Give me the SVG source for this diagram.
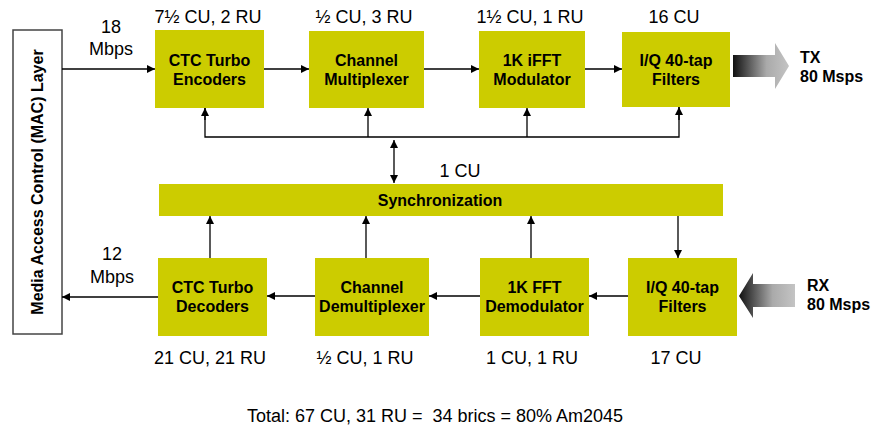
<svg xmlns="http://www.w3.org/2000/svg" width="872" height="431" viewBox="0 0 872 431">
<defs>
<style>
.box{fill:#cccc00}
.bt{font-family:"Liberation Sans",Arial,sans-serif;font-size:16px;font-weight:bold;fill:#000;text-anchor:middle}
.lt{font-family:"Liberation Sans",Arial,sans-serif;font-size:18px;fill:#000;text-anchor:middle}
.ln{stroke:#000;stroke-width:1.3;fill:none}
.wl{font-family:"Liberation Sans",Arial,sans-serif;font-size:16px;font-weight:bold;fill:#000}
</style>
<marker id="ah" markerUnits="userSpaceOnUse" markerWidth="9" markerHeight="9" refX="8" refY="4" orient="auto-start-reverse">
<path d="M0,0 L8,4 L0,8 z" fill="#000"/>
</marker>
<linearGradient id="gtx" x1="0" y1="0" x2="1" y2="0">
<stop offset="0" stop-color="#111"/>
<stop offset="0.6" stop-color="#aaa"/>
<stop offset="1" stop-color="#c4c4c4"/>
</linearGradient>
<linearGradient id="grx" x1="1" y1="0" x2="0" y2="0">
<stop offset="0" stop-color="#c4c4c4"/>
<stop offset="0.4" stop-color="#aaa"/>
<stop offset="1" stop-color="#111"/>
</linearGradient>
</defs>
<rect width="872" height="431" fill="#fff"/>

<g id="mac">
<rect x="13" y="30" width="49" height="304" fill="#fff" stroke="#444" stroke-width="1.5"/>
<text class="bt" transform="translate(43,182) rotate(-90)">Media Access Control (MAC) Layer</text>
</g>

<g id="enc">
<rect class="box" x="155" y="30" width="109" height="78"/>
<text class="bt" x="209.5" y="66">CTC Turbo</text>
<text class="bt" x="209.5" y="85">Encoders</text>
<text class="lt" x="208" y="23">7½ CU, 2 RU</text>
</g>
<g id="mux">
<rect class="box" x="309" y="31" width="115" height="77"/>
<text class="bt" x="366.5" y="66">Channel</text>
<text class="bt" x="366.5" y="85">Multiplexer</text>
<text class="lt" x="364" y="23">½ CU, 3 RU</text>
</g>
<g id="ifft">
<rect class="box" x="479" y="31" width="106" height="77"/>
<text class="bt" x="532" y="66">1K iFFT</text>
<text class="bt" x="532" y="85">Modulator</text>
<text class="lt" x="530" y="23">1½ CU, 1 RU</text>
</g>
<g id="iqtx">
<rect class="box" x="622" y="32" width="108" height="75"/>
<text class="bt" x="676" y="66">I/Q 40-tap</text>
<text class="bt" x="676" y="85">Filters</text>
<text class="lt" x="674" y="23">16 CU</text>
</g>

<g id="sync">
<rect class="box" x="159" y="184" width="564" height="32"/>
<text class="bt" x="440" y="206">Synchronization</text>
<text class="lt" x="460" y="177">1 CU</text>
</g>

<g id="dec">
<rect class="box" x="158" y="258" width="109" height="78"/>
<text class="bt" x="212.5" y="293">CTC Turbo</text>
<text class="bt" x="212.5" y="312">Decoders</text>
<text class="lt" x="210" y="364">21 CU, 21 RU</text>
</g>
<g id="demux">
<rect class="box" x="315" y="258" width="114" height="78"/>
<text class="bt" x="372" y="293">Channel</text>
<text class="bt" x="372" y="312">Demultiplexer</text>
<text class="lt" x="365" y="364">½ CU, 1 RU</text>
</g>
<g id="fft">
<rect class="box" x="480" y="258" width="109" height="78"/>
<text class="bt" x="534.5" y="293">1K FFT</text>
<text class="bt" x="534.5" y="312">Demodulator</text>
<text class="lt" x="532" y="364">1 CU, 1 RU</text>
</g>
<g id="iqrx">
<rect class="box" x="628" y="258" width="109" height="78"/>
<text class="bt" x="682.5" y="293">I/Q 40-tap</text>
<text class="bt" x="682.5" y="312">Filters</text>
<text class="lt" x="676" y="364">17 CU</text>
</g>

<g id="tx">
<path d="M733,55 L775,55 L775,43 L789,66 L775,89 L775,77 L733,77 z" fill="url(#gtx)"/>
<text class="wl" x="800" y="63">TX</text>
<text class="wl" x="800" y="82">80 Msps</text>
</g>
<g id="rx">
<path d="M795,284 L753,284 L753,273 L739,296 L753,318 L753,307 L795,307 z" fill="url(#grx)"/>
<text class="wl" x="807" y="291">RX</text>
<text class="wl" x="807" y="310">80 Msps</text>
</g>

<g id="connectors">
<line class="ln" x1="62" y1="69" x2="155" y2="69" marker-end="url(#ah)"/>
<line class="ln" x1="264" y1="69" x2="309" y2="69" marker-end="url(#ah)"/>
<line class="ln" x1="424" y1="69" x2="479" y2="69" marker-end="url(#ah)"/>
<line class="ln" x1="585" y1="69" x2="622" y2="69" marker-end="url(#ah)"/>
<polyline class="ln" points="205,108 205,137 679,137 679,107"/>
<line class="ln" x1="205" y1="120" x2="205" y2="108" marker-end="url(#ah)"/>
<line class="ln" x1="368" y1="137" x2="368" y2="108" marker-end="url(#ah)"/>
<line class="ln" x1="527" y1="137" x2="527" y2="108" marker-end="url(#ah)"/>
<line class="ln" x1="679" y1="120" x2="679" y2="107" marker-end="url(#ah)"/>
<line class="ln" x1="394" y1="140" x2="394" y2="183" marker-start="url(#ah)" marker-end="url(#ah)"/>
<line class="ln" x1="210" y1="258" x2="210" y2="216" marker-end="url(#ah)"/>
<line class="ln" x1="366" y1="258" x2="366" y2="216" marker-end="url(#ah)"/>
<line class="ln" x1="531" y1="258" x2="531" y2="216" marker-end="url(#ah)"/>
<line class="ln" x1="678" y1="216" x2="678" y2="258" marker-end="url(#ah)"/>
<line class="ln" x1="628" y1="296" x2="589" y2="296" marker-end="url(#ah)"/>
<line class="ln" x1="480" y1="296" x2="429" y2="296" marker-end="url(#ah)"/>
<line class="ln" x1="315" y1="296" x2="267" y2="296" marker-end="url(#ah)"/>
<line class="ln" x1="158" y1="297" x2="62" y2="297" marker-end="url(#ah)"/>
<text class="lt" x="111" y="33">18</text>
<text class="lt" x="111" y="55">Mbps</text>
<text class="lt" x="112" y="260">12</text>
<text class="lt" x="112" y="283">Mbps</text>
</g>

<text class="lt" x="435" y="422" style="white-space:pre">Total: 67 CU, 31 RU =  34 brics = 80% Am2045</text>
</svg>
